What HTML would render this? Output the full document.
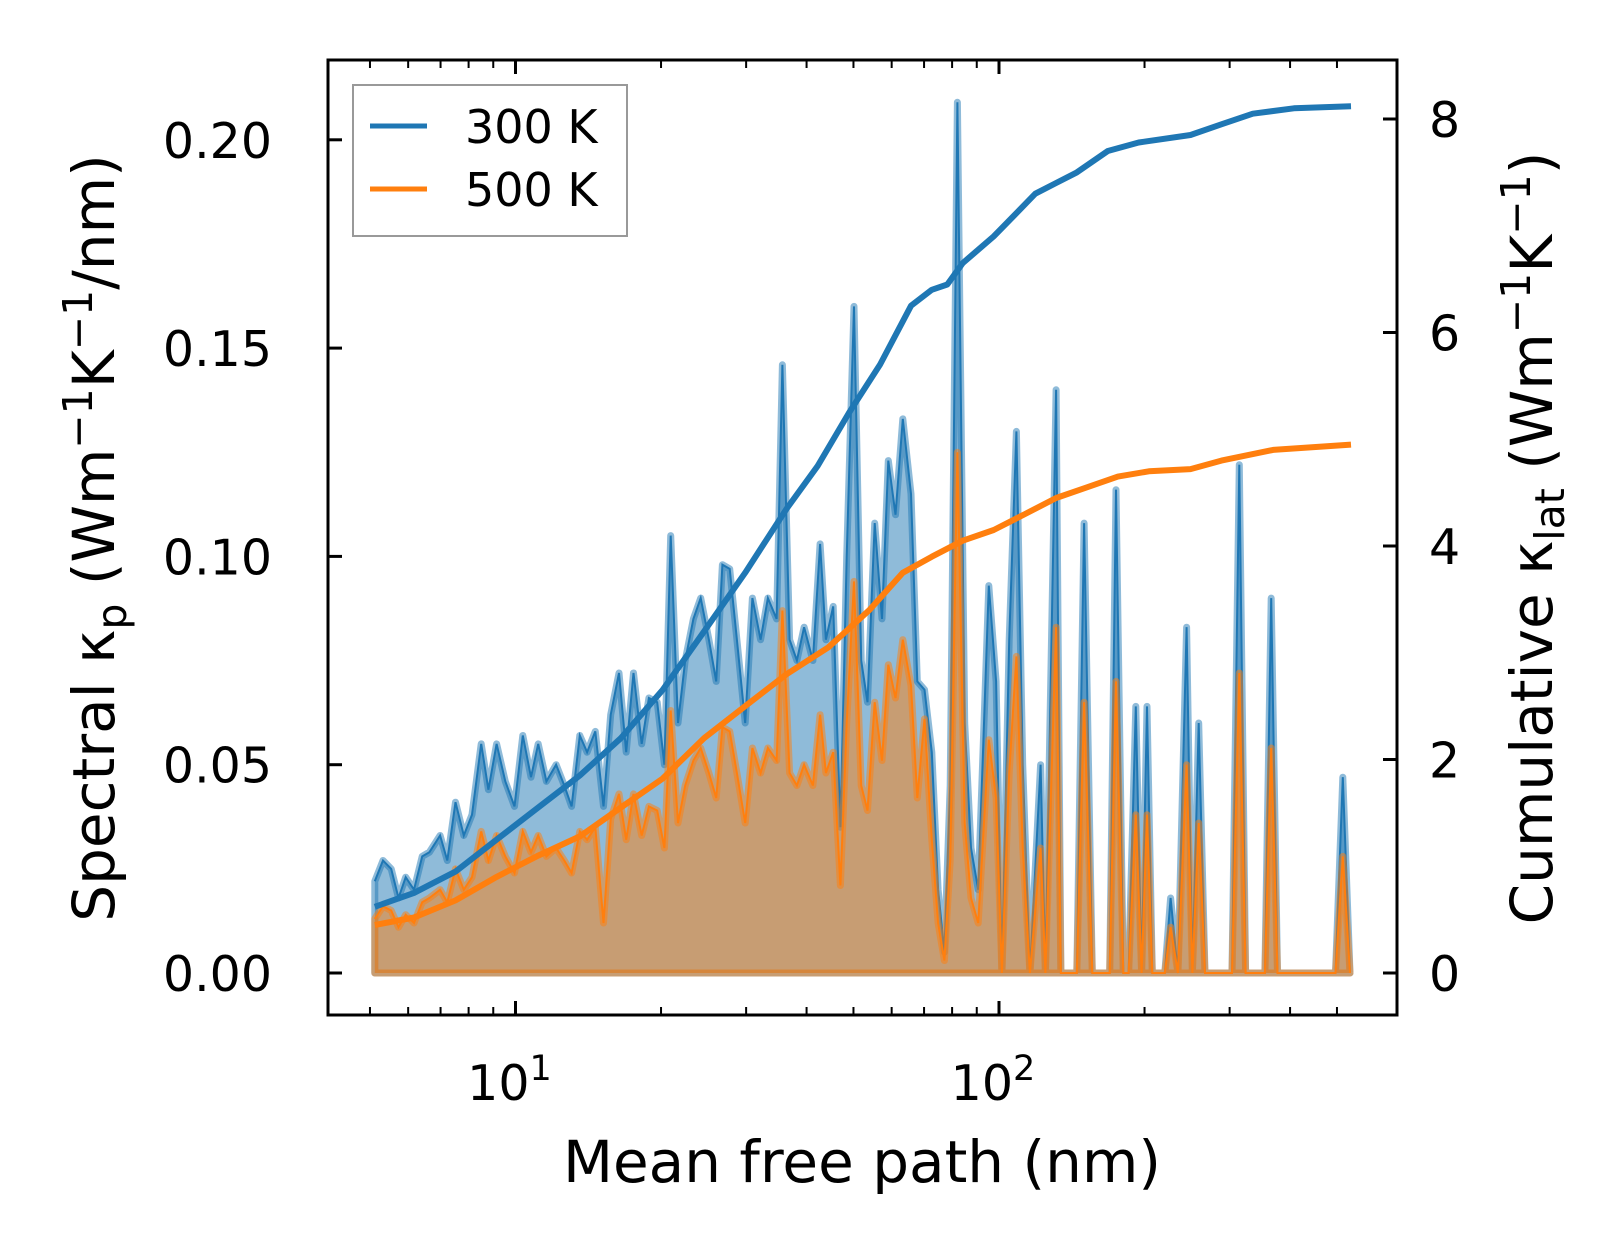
<!DOCTYPE html>
<html><head><meta charset="utf-8"><style>
body{margin:0;background:#fff;}
svg{display:block;font-family:"DejaVu Sans","Liberation Sans",sans-serif;}
</style></head><body>
<svg id="chart" width="1623" height="1254" viewBox="0 0 1623 1254" xmlns="http://www.w3.org/2000/svg">
<rect width="1623" height="1254" fill="#fff"/>
<g id="plot"></g>
<g id="axes"></g>
</svg>
<script>
const specLogMfp=[0.709,0.726,0.743,0.758,0.773,0.790,0.807,0.822,0.844,0.859,0.876,0.893,0.910,0.929,0.944,0.961,0.979,0.998,1.015,1.032,1.047,1.064,1.084,1.101,1.116,1.133,1.148,1.165,1.182,1.197,1.214,1.229,1.244,1.261,1.276,1.293,1.308,1.321,1.336,1.351,1.368,1.383,1.400,1.415,1.428,1.443,1.458,1.475,1.490,1.507,1.522,1.540,1.552,1.567,1.582,1.597,1.615,1.630,1.642,1.657,1.672,1.685,1.700,1.715,1.728,1.743,1.758,1.771,1.786,1.801,1.818,1.831,1.846,1.861,1.874,1.887,1.899,1.914,1.929,1.942,1.957,1.979,1.994,2.006,2.021,2.036,2.049,2.064,2.086,2.096,2.118,2.128,2.161,2.176,2.193,2.229,2.242,2.257,2.268,2.283,2.295,2.306,2.317,2.343,2.355,2.370,2.388,2.400,2.413,2.426,2.482,2.497,2.510,2.550,2.563,2.576,2.696,2.711,2.726];
const spec300=[0.022,0.027,0.025,0.018,0.023,0.020,0.028,0.029,0.033,0.027,0.041,0.033,0.038,0.055,0.044,0.055,0.046,0.040,0.057,0.047,0.055,0.046,0.050,0.045,0.040,0.057,0.053,0.058,0.040,0.062,0.072,0.053,0.072,0.055,0.066,0.065,0.050,0.105,0.060,0.075,0.085,0.090,0.080,0.070,0.098,0.097,0.080,0.060,0.090,0.080,0.090,0.085,0.146,0.080,0.075,0.083,0.075,0.103,0.080,0.088,0.035,0.100,0.160,0.075,0.065,0.108,0.085,0.123,0.110,0.133,0.115,0.070,0.068,0.053,0.020,0.005,0.045,0.209,0.060,0.030,0.020,0.093,0.070,0.000,0.080,0.130,0.050,0.000,0.050,0.000,0.140,0.000,0.000,0.108,0.000,0.000,0.116,0.000,0.000,0.064,0.000,0.064,0.000,0.000,0.018,0.000,0.083,0.000,0.060,0.000,0.000,0.122,0.000,0.000,0.090,0.000,0.000,0.047,0.000];
const spec500=[0.013,0.016,0.015,0.011,0.014,0.012,0.017,0.018,0.020,0.017,0.025,0.020,0.023,0.034,0.027,0.033,0.028,0.024,0.034,0.029,0.033,0.028,0.030,0.027,0.024,0.034,0.032,0.035,0.012,0.037,0.043,0.032,0.043,0.033,0.040,0.039,0.030,0.063,0.036,0.045,0.051,0.054,0.048,0.042,0.059,0.058,0.048,0.036,0.054,0.048,0.054,0.051,0.087,0.048,0.045,0.050,0.045,0.062,0.048,0.053,0.021,0.060,0.094,0.045,0.039,0.065,0.051,0.074,0.066,0.080,0.069,0.042,0.061,0.032,0.012,0.003,0.027,0.125,0.036,0.018,0.012,0.056,0.042,0.000,0.048,0.076,0.030,0.000,0.030,0.000,0.083,0.000,0.000,0.065,0.000,0.000,0.070,0.000,0.000,0.038,0.000,0.038,0.000,0.000,0.011,0.000,0.050,0.000,0.036,0.000,0.000,0.072,0.000,0.000,0.054,0.000,0.000,0.028,0.000];
const cumLog300=[0.709,0.790,0.876,0.961,1.047,1.133,1.218,1.304,1.390,1.475,1.561,1.625,1.690,1.754,1.818,1.861,1.893,1.925,1.989,2.032,2.075,2.118,2.161,2.225,2.289,2.396,2.460,2.525,2.610,2.728];
const cum300=[0.62,0.75,0.95,1.25,1.55,1.85,2.2,2.65,3.2,3.75,4.35,4.75,5.25,5.7,6.25,6.4,6.45,6.65,6.9,7.1,7.3,7.4,7.5,7.7,7.78,7.85,7.95,8.05,8.1,8.12];
const cumLog500=[0.709,0.790,0.876,0.961,1.047,1.133,1.218,1.304,1.390,1.475,1.561,1.647,1.732,1.801,1.861,1.925,1.989,2.054,2.118,2.182,2.246,2.310,2.396,2.460,2.567,2.728];
const cum500=[0.45,0.52,0.68,0.9,1.1,1.28,1.55,1.82,2.2,2.5,2.8,3.05,3.4,3.75,3.9,4.05,4.15,4.3,4.45,4.55,4.65,4.7,4.72,4.8,4.9,4.95];
const leftTicks=[0,0.05,0.10,0.15,0.20];
const leftTickLabels=["0.00","0.05","0.10","0.15","0.20"];
const rightTicks=[0,2,4,6,8];
const xMajor=[1,2];
const xMinor=[0.699,0.778,0.845,0.903,0.954,1.301,1.477,1.602,1.699,1.778,1.845,1.903,1.954,2.301,2.477,2.602,2.699];

const NS="http://www.w3.org/2000/svg";
const X=l=>515.5+(l-1)*483.5;
const YL=v=>973-v/0.05*208.3;
const YR=v=>973-v*106.75;
const plot=document.getElementById('plot'),axes=document.getElementById('axes');
function mk(tag,attrs,parent){const e=document.createElementNS(NS,tag);for(const k in attrs)e.setAttribute(k,attrs[k]);parent.appendChild(e);return e;}
function spectral(vals,col,name){
  let pts=specLogMfp.map((l,i)=>X(l).toFixed(1)+','+YL(vals[i]).toFixed(1));
  const area=mk('polygon',{points:X(specLogMfp[0])+','+YL(0)+' '+pts.join(' ')+' '+X(specLogMfp[specLogMfp.length-1])+','+YL(0),fill:col,'fill-opacity':0.5,stroke:col,'stroke-opacity':0.5,'stroke-width':7,'stroke-linejoin':'round'},plot);
  
  
  const line=mk('polyline',{points:pts.join(' '),fill:'none',stroke:col,'stroke-width':2},plot);
  
  
}
spectral(spec300,'#1f77b4','spectral-300k');
spectral(spec500,'#ff7f0e','spectral-500k');
function cum(xs,vals,col,name){
  const pl=mk('polyline',{points:xs.map((l,i)=>X(l).toFixed(1)+','+YR(vals[i]).toFixed(1)).join(' '),fill:'none',stroke:col,'stroke-width':6,'stroke-linejoin':'round'},plot);
  
  
}
cum(cumLog300,cum300,'#1f77b4','cumulative-300k');
cum(cumLog500,cum500,'#ff7f0e','cumulative-500k');
const fr=mk('rect',{x:328,y:60,width:1069,height:955,fill:'none',stroke:'#000','stroke-width':3},axes);


leftTicks.forEach((v,i)=>{
  mk('line',{x1:328,x2:342,y1:YL(v),y2:YL(v),stroke:'#000','stroke-width':3},axes);
  const t=mk('text',{x:272,y:YL(v)+18,'text-anchor':'end','font-size':49},axes);
  t.textContent=leftTickLabels[i];
  
  
});
rightTicks.forEach(v=>{
  mk('line',{x1:1383,x2:1397,y1:YR(v),y2:YR(v),stroke:'#000','stroke-width':3},axes);
  const t=mk('text',{x:1429,y:YR(v)+18,'font-size':49},axes);
  t.textContent=String(v);
  
  
});
xMajor.forEach(l=>{
  mk('line',{x1:X(l),x2:X(l),y1:1015,y2:1001,stroke:'#000','stroke-width':3},axes);
  mk('line',{x1:X(l),x2:X(l),y1:60,y2:74,stroke:'#000','stroke-width':3},axes);
  const t=mk('text',{x:X(l)-6,y:1100,'text-anchor':'middle','font-size':49},axes);
  t.innerHTML='10<tspan dy="-20" font-size="35">'+l+'</tspan>';
  
  
});
xMinor.forEach(l=>{
  mk('line',{x1:X(l),x2:X(l),y1:1015,y2:1007,stroke:'#000','stroke-width':2},axes);
  mk('line',{x1:X(l),x2:X(l),y1:60,y2:68,stroke:'#000','stroke-width':2},axes);
});
</script>
<svg style="position:absolute;left:0;top:0" width="1623" height="1254">
<g font-family="DejaVu Sans, Liberation Sans, sans-serif" font-size="58">
<text x="862" y="1182" text-anchor="middle">Mean free path (nm)</text>
<text transform="translate(114,538) rotate(-90)" text-anchor="middle">Spectral κ<tspan font-size="41" dy="12">p</tspan><tspan dy="-12"> (Wm</tspan><tspan font-size="41" dy="-22">−1</tspan><tspan dy="22">K</tspan><tspan font-size="41" dy="-22">−1</tspan><tspan dy="22">/nm)</tspan></text>
<text transform="translate(1552,538) rotate(-90)" text-anchor="middle">Cumulative κ<tspan font-size="41" dy="12">lat</tspan><tspan dy="-12"> (Wm</tspan><tspan font-size="41" dy="-22">−1</tspan><tspan dy="22">K</tspan><tspan font-size="41" dy="-22">−1</tspan><tspan dy="22">)</tspan></text>
</g>
<g>
<rect x="353" y="85" width="274" height="151" fill="#fff" fill-opacity="0.8" stroke="#999" stroke-width="2"/>
<line x1="370" x2="427" y1="126" y2="126" stroke="#1f77b4" stroke-width="5"/>
<line x1="370" x2="427" y1="189" y2="189" stroke="#ff7f0e" stroke-width="5"/>
<text x="465" y="143" font-size="46" font-family="DejaVu Sans, Liberation Sans, sans-serif">300 K</text>
<text x="465" y="206" font-size="46" font-family="DejaVu Sans, Liberation Sans, sans-serif">500 K</text>
</g>
</svg>
</body></html>
